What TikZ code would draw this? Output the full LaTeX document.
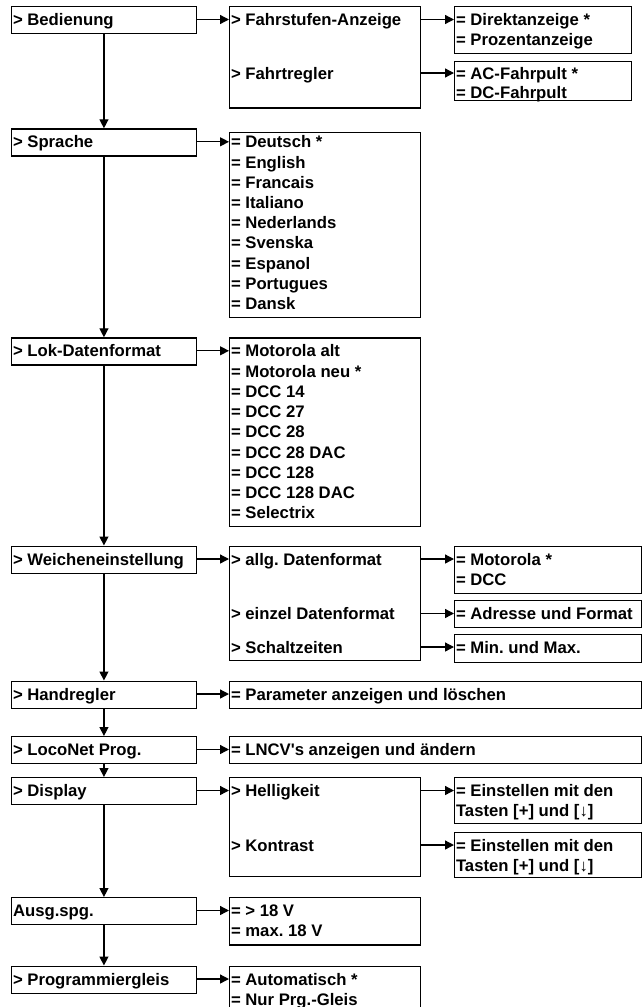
\documentclass[tikz,border=0pt]{standalone}
\usepackage{fontspec}
\newfontfamily\arialish{Liberation Sans}
\usetikzlibrary{arrows.meta,calc}
\tikzset{
  box/.style={draw, line width=1.4pt, rectangle, inner sep=0pt, anchor=north west},
  txt/.style={anchor=west, inner sep=0pt, text height=12pt, text depth=0pt,
    font=\arialish\bfseries\fontsize{16.7}{20}\selectfont},
  arr/.style={line width=1.3pt, -{Triangle[length=9pt,width=9pt]}},
}
\newcommand{\bx}[5]{% name, x1, y1, x2, y2
  \path let \n1={#4-#2}, \n2={#5-#3} in
    node[box, minimum width=\n1*1pt, minimum height=\n2*1pt] (#1) at (#2,#3) {};}
\begin{document}
\frenchspacing
\begin{tikzpicture}[x=1pt,y=-1pt]
\useasboundingbox (0,0) rectangle (643,1007);
\clip (0,0) rectangle (643,1007);
% left column
\bx{bed}{11}{6}{195.5}{33}
\bx{spr}{11}{128.3}{195.5}{155.3}
\bx{lok}{11}{337.3}{195.5}{364.3}
\bx{wei}{11}{545.5}{195.5}{572.5}
\bx{han}{11}{680.5}{195.5}{707.5}
\bx{loc}{11}{736}{195.5}{763}
\bx{dis}{11}{777}{195.5}{804}
\bx{aus}{11}{897}{195.5}{924}
\bx{prg}{11}{965.5}{195.5}{992.5}
\node[txt] (tbed) at (12.8,19.5) {> Bedienung};
\node[txt] (tspr) at (12.8,141.8) {> Sprache};
\node[txt] (tlok) at (12.8,350.8) {> Lok-Datenformat};
\node[txt] (twei) at (12.8,559) {> Weicheneinstellung};
\node[txt] (than) at (12.8,694) {> Handregler};
\node[txt] (tloc) at (12.8,749.5) {> LocoNet Prog.};
\node[txt] (tdis) at (12.8,790.5) {> Display};
\node[txt] (taus) at (12.8,910.5) {Ausg.spg.};
\node[txt] (tprg) at (12.8,979) {> Programmiergleis};
% second column
\bx{bsub}{229}{6}{419.5}{107.3}
\bx{sprO}{229}{131.5}{419.5}{316.7}
\bx{lokO}{229}{337.3}{419.5}{526}
\bx{wsub}{229}{545.5}{419.5}{659.5}
\bx{hanO}{229}{680.5}{641}{707.5}
\bx{locO}{229}{736}{641}{763}
\bx{dsub}{229}{777}{419.5}{875.5}
\bx{ausO}{229}{897}{419.5}{944.3}
\bx{prgO}{229}{965.5}{419.5}{1015}
\node[txt] (tfs) at (230.8,19.5) {> Fahrstufen-Anzeige};
\node[txt] (tfr) at (230.8,73) {> Fahrtregler};
\foreach \t [count=\i from 0] in {= Deutsch *, = English, = Francais, = Italiano, = Nederlands, = Svenska, = Espanol, = Portugues, = Dansk}
  \node[txt] (sp\i) at (230.8,141.8+20.2*\i) {\t};
\foreach \t [count=\i from 0] in {= Motorola alt, = Motorola neu *, = DCC 14, = DCC 27, = DCC 28, = DCC 28 DAC, = DCC 128, = DCC 128 DAC, = Selectrix}
  \node[txt] (lk\i) at (230.8,350.8+20.25*\i) {\t};
\node[txt] (tal) at (230.8,559) {> allg. Datenformat};
\node[txt] (tei) at (230.8,613.5) {> einzel Datenformat};
\node[txt] (tsz) at (230.8,647) {> Schaltzeiten};
\node[txt] (thanO) at (230.8,694) {= Parameter anzeigen und löschen};
\node[txt] (tlocO) at (230.8,749.5) {= LNCV's anzeigen und ändern};
\node[txt] (the) at (230.8,790.5) {> Helligkeit};
\node[txt] (tko) at (230.8,845) {> Kontrast};
\node[txt] (tau1) at (230.8,910.5) {= > 18 V};
\node[txt] (tau2) at (230.8,930.7) {= max. 18 V};
\node[txt] (tpr1) at (230.8,979) {= Automatisch *};
\node[txt] (tpr2) at (230.8,999.2) {= Nur Prg.-Gleis};
% third column
\bx{dirO}{454}{6}{631}{53}
\bx{acO}{454}{60.5}{631}{99.5}
\bx{motO}{454}{545.5}{641}{592.7}
\bx{adrO}{454}{600}{641}{626.7}
\bx{minO}{454}{633.5}{641}{661.5}
\bx{helO}{454}{777}{641}{822.7}
\bx{konO}{454}{832}{641}{876.7}
\node[txt] (td1) at (455.8,19.5) {= Direktanzeige *};
\node[txt] (td2) at (455.8,39.7) {= Prozentanzeige};
\node[txt] (tac1) at (455.8,73) {= AC-Fahrpult *};
\node[txt] (tac2) at (455.8,92.3) {= DC-Fahrpult};
\node[txt] (tm1) at (455.8,559) {= Motorola *};
\node[txt] (tm2) at (455.8,579.2) {= DCC};
\node[txt] (tad) at (455.8,613.5) {= Adresse und Format};
\node[txt] (tmi) at (455.8,647) {= Min. und Max.};
\node[txt] (th1) at (455.8,790.5) {= Einstellen mit den};
\node[txt] (th2) at (455.8,810.7) {Tasten [+] und [↓]};
\node[txt] (tk1) at (455.8,845) {= Einstellen mit den};
\node[txt] (tk2) at (455.8,865.2) {Tasten [+] und [↓]};
% vertical connectors
\draw[arr] (bed.south) -- (spr.north);
\draw[arr] (spr.south) -- (lok.north);
\draw[arr] (lok.south) -- (wei.north);
\draw[arr] (wei.south) -- (han.north);
\draw[arr] (han.south) -- (loc.north);
\draw[arr] (loc.south) -- (dis.north);
\draw[arr] (dis.south) -- (aus.north);
\draw[arr] (aus.south) -- (prg.north);
% horizontal connectors
\draw[arr] (bed.east |- tbed) -- (bsub.west |- tbed);
\draw[arr] (bsub.east |- tfs) -- (dirO.west |- tfs);
\draw[arr] (bsub.east |- tfr) -- (acO.west |- tfr);
\draw[arr] (spr.east |- tspr) -- (sprO.west |- tspr);
\draw[arr] (lok.east |- tlok) -- (lokO.west |- tlok);
\draw[arr] (wei.east |- twei) -- (wsub.west |- twei);
\draw[arr] (wsub.east |- tal) -- (motO.west |- tal);
\draw[arr] (wsub.east |- tei) -- (adrO.west |- tei);
\draw[arr] (wsub.east |- tsz) -- (minO.west |- tsz);
\draw[arr] (han.east |- than) -- (hanO.west |- than);
\draw[arr] (loc.east |- tloc) -- (locO.west |- tloc);
\draw[arr] (dis.east |- tdis) -- (dsub.west |- tdis);
\draw[arr] (dsub.east |- the) -- (helO.west |- the);
\draw[arr] (dsub.east |- tko) -- (konO.west |- tko);
\draw[arr] (aus.east |- taus) -- (ausO.west |- taus);
\draw[arr] (prg.east |- tprg) -- (prgO.west |- tprg);
\end{tikzpicture}
\end{document}
